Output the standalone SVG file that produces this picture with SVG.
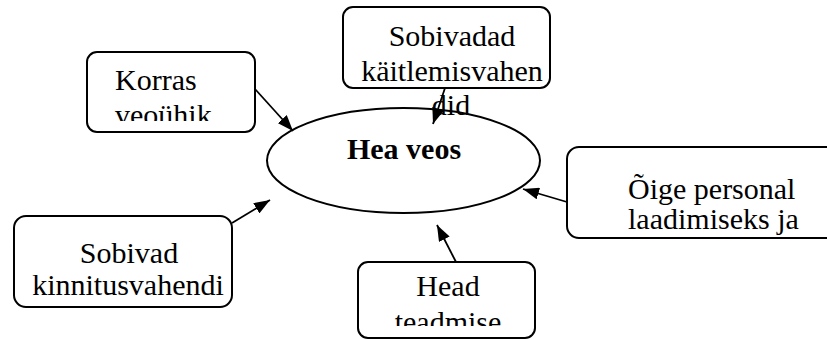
<svg xmlns="http://www.w3.org/2000/svg" width="827" height="339" viewBox="0 0 827 339">
<style>
.box{fill:#fff;stroke:#000;stroke-width:2}
.t{font-family:"Liberation Serif","Times New Roman",serif;font-size:30px;fill:#000}
.c{text-anchor:middle}
.b{font-weight:bold}
.edge{stroke:#000;stroke-width:1.8;fill:none;marker-end:url(#ah)}
</style>
<defs>
<marker id="ah" viewBox="0 0 16 12" refX="16" refY="6" markerWidth="16" markerHeight="12" markerUnits="userSpaceOnUse" orient="auto">
<path d="M0,0 L16,6 L0,12 z" fill="#000"/>
</marker>
<clipPath id="c1"><rect x="89" y="54" width="164" height="67"/></clipPath>
<clipPath id="c5"><rect x="360" y="264" width="173" height="62"/></clipPath>
</defs>
<g id="center">
<ellipse cx="403.5" cy="160.5" rx="136.5" ry="52.5" fill="#fff" stroke="#000" stroke-width="2"/>
<text class="t c b" x="404" y="159">Hea veos</text>
</g>
<g id="n-korras">
<rect class="box" x="87" y="52" width="168" height="80" rx="10"/>
<g clip-path="url(#c1)">
<text class="t" x="115" y="90">Korras</text>
<text class="t" x="115" y="125">veoühik</text>
</g>
</g>
<g id="n-sobivadad">
<rect class="box" x="343" y="7" width="207" height="81" rx="10"/>
<text class="t c" x="452" y="46">Sobivadad</text>
<text class="t c" x="452" y="81">käitlemisvahen</text>
<text class="t c" x="451" y="115">did</text>
</g>
<g id="n-oige">
<rect class="box" x="567" y="147" width="280" height="91" rx="12"/>
<text class="t" x="628" y="199">Õige personal</text>
<text class="t" x="628" y="229">laadimiseks ja</text>
</g>
<g id="n-kinnitus">
<rect class="box" x="14" y="216" width="218" height="91" rx="12"/>
<text class="t c" x="129" y="263">Sobivad</text>
<text class="t c" x="128" y="295">kinnitusvahendi</text>
</g>
<g id="n-head">
<rect class="box" x="358" y="262" width="177" height="76" rx="10"/>
<g clip-path="url(#c5)">
<text class="t c" x="448" y="296">Head</text>
<text class="t c" x="448" y="332">teadmise</text>
</g>
</g>
<g id="connectors">
<line class="edge" x1="255" y1="89" x2="293" y2="131"/>
<line class="edge" x1="445" y1="88" x2="433" y2="124"/>
<line class="edge" x1="567" y1="202" x2="523" y2="189"/>
<line class="edge" x1="456" y1="262" x2="437" y2="225"/>
<line class="edge" x1="232" y1="223" x2="270" y2="200"/>
</g>
</svg>
